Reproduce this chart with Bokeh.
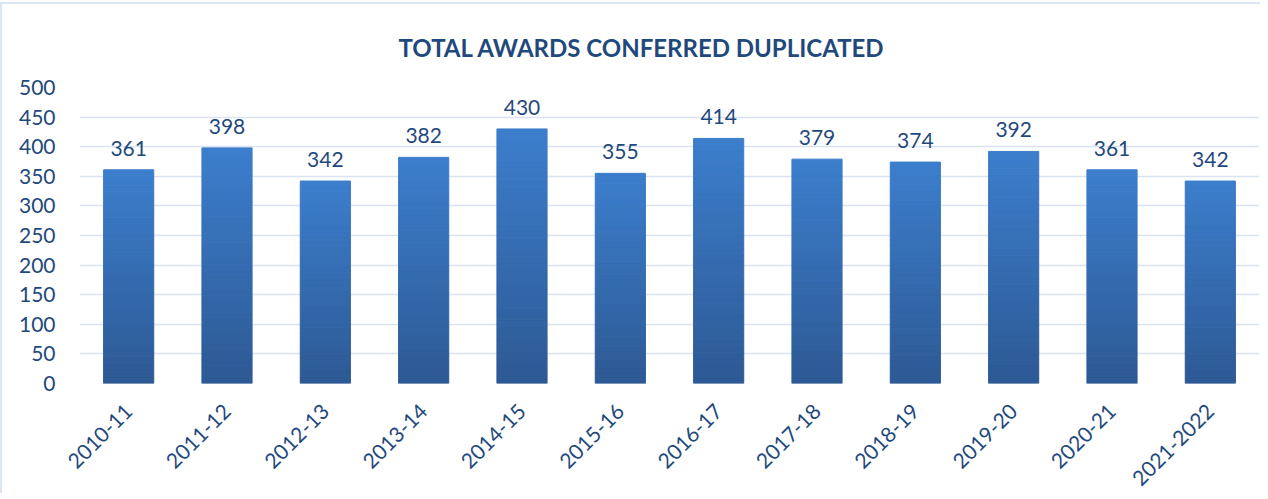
import numpy as np
from bokeh.plotting import figure
from bokeh.models import Range1d, ColumnDataSource, LabelSet, FixedTicker
from bokeh.core.properties import value
from bokeh.embed import file_html
from bokeh.resources import INLINE
from math import pi

years = ["2010-11", "2011-12", "2012-13", "2013-14", "2014-15", "2015-16",
         "2016-17", "2017-18", "2018-19", "2019-20", "2020-21", "2021-2022"]
awards = [361, 398, 342, 382, 430, 355, 414, 379, 374, 392, 361, 342]

TXT = "#1F497D"
FONT = "Lato"

p = figure(x_range=years, y_range=Range1d(0, 500), width=1260, height=491,
           output_backend="svg", toolbar_location=None,
           min_border_left=77, min_border_right=3, min_border_bottom=112, min_border_top=83)
p.styles = {"border-top": "2px solid #DCE6F2", "border-left": "2px solid #DCE6F2",
            "margin-top": "2px"}

p.title.text = "TOTAL AWARDS CONFERRED DUPLICATED"
p.title.align = "left"
p.title.text_font = FONT
p.title.text_font_style = "bold"
p.title.text_font_size = "24px"
p.title.text_color = TXT
p.title.offset = 319
p.title.standoff = 52

# gradient bars: bands from bottom (dark) to top (light)
N = 40
c_bot = np.array([0x2D, 0x59, 0x93])
c_top = np.array([0x3C, 0x7E, 0xCD])
vals = np.array(awards, dtype=float)
for i in range(N):
    t = (i + 0.5) / N
    c = (c_bot + (c_top - c_bot) * t).round().astype(int)
    col = "#%02x%02x%02x" % tuple(c)
    p.vbar(x=years, bottom=vals * i / N, top=vals * (i + 1) / N, width=0.51,
           fill_color=col, line_color=col, line_width=1)

src = ColumnDataSource(dict(x=years, y=awards, t=[str(v) for v in awards]))
labels = LabelSet(x="x", y="y", text="t", source=src, text_align="center",
                  text_baseline="bottom", y_offset=14, text_font=value(FONT),
                  text_font_size="21px", text_color=TXT)
p.add_layout(labels)

p.yaxis.ticker = FixedTicker(ticks=list(range(0, 501, 50)))
for ax in (p.xaxis, p.yaxis):
    ax.axis_line_color = None
    ax.major_tick_line_color = None
    ax.minor_tick_line_color = None
    ax.major_label_text_font = FONT
    ax.major_label_text_color = TXT
p.yaxis.major_label_text_font_size = "21px"
p.xaxis.major_label_text_font_size = "21px"
p.yaxis.major_label_standoff = 18
p.xaxis.major_label_orientation = pi / 4
p.xaxis.major_label_standoff = 18

p.xgrid.grid_line_color = None
p.ygrid.grid_line_color = "#D9E3F1"
p.ygrid.grid_line_width = 1.5
p.outline_line_color = None
p.x_range.range_padding = 0

open("out.html", "w").write(file_html(p, INLINE))
